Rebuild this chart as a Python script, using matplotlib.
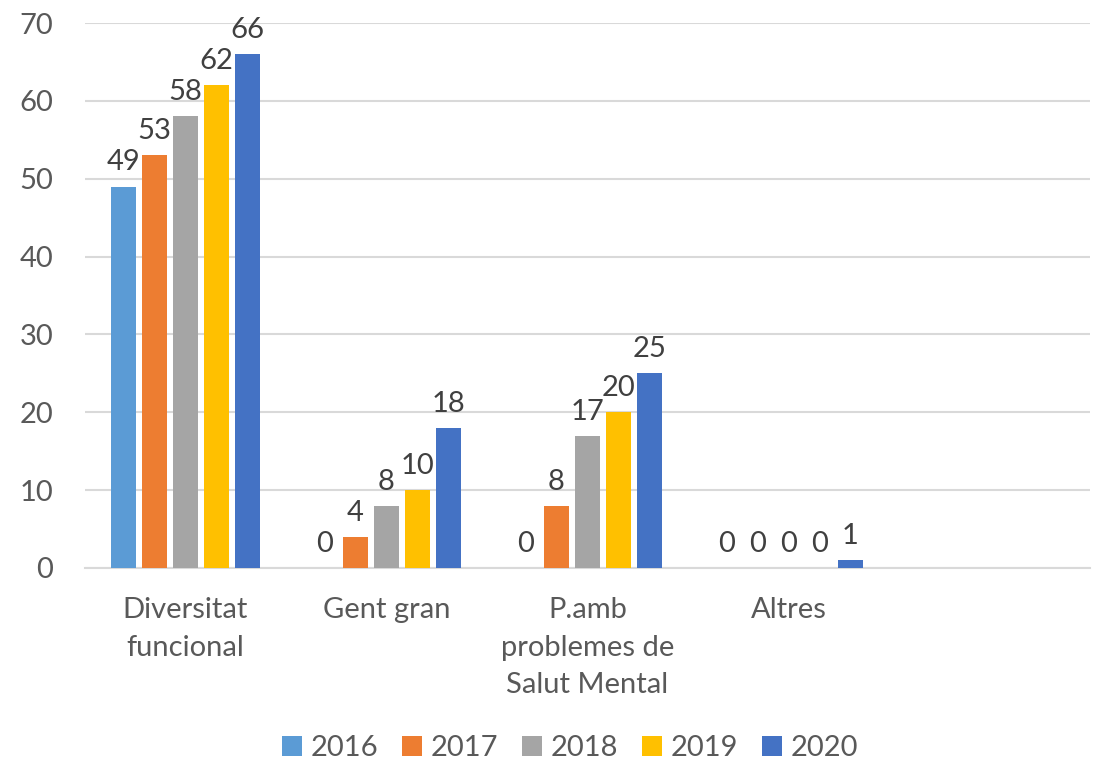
import matplotlib.pyplot as plt
import numpy as np

# dades
categories = ['Diversitat\nfuncional', 'Gent gran', 'P.amb\nproblemes de\nSalut Mental', 'Altres', '']
years = ['2016', '2017', '2018', '2019', '2020']
v2016 = [49, 0, 0, 0]
v2017 = [53, 4, 8, 0]
v2018 = [58, 8, 17, 0]
v2019 = [62, 10, 20, 0]
v2020 = [66, 18, 25, 1]
series = [v2016, v2017, v2018, v2019, v2020]
colors = ['#5B9BD5', '#ED7D31', '#A5A5A5', '#FFC000', '#4472C4']

plt.rcParams['font.family'] = ['Lato', 'DejaVu Sans']

fig = plt.figure(figsize=(10.97, 7.64), dpi=100)
ax = fig.add_axes([85/1097, 196/764, 1005/1097, 545/764])

pitch = 31/201
width = 25/201
x = np.arange(len(series[0]))
for i, (vals, col, yr) in enumerate(zip(series, colors, years)):
    pos = x + (i - 2) * pitch
    ax.bar(pos, vals, width=width, color=col, label=yr, zorder=3)
    for xp, v in zip(pos, vals):
        ax.annotate(str(v), (xp, v), xytext=(0, 8), textcoords='offset points',
                    ha='center', va='bottom', fontsize=21, color='#404040')

ax.set_xlim(-0.5, 4.5)
ax.set_ylim(0, 70)
ax.set_yticks(range(0, 71, 10))
ax.set_xticks(range(len(categories)))
ax.set_xticklabels(categories, fontsize=21, color='#595959', linespacing=1.55)
ax.tick_params(axis='y', labelsize=21, labelcolor='#595959', length=0, pad=23)
ax.tick_params(axis='x', length=0, pad=21)
ax.grid(axis='y', color='#D9D9D9', linewidth=1.5, zorder=0)
for s in ['top', 'right', 'left']:
    ax.spines[s].set_visible(False)
ax.spines['bottom'].set_color('#D9D9D9')
ax.spines['bottom'].set_linewidth(1.5)

fig.legend(loc='center', bbox_to_anchor=(570/1097, 1 - 748/764), ncol=5, frameon=False,
           fontsize=21, labelcolor='#595959', handlelength=0.7, handleheight=0.7,
           handletextpad=0.3, columnspacing=0.8)

plt.savefig('out.png', dpi=100)
